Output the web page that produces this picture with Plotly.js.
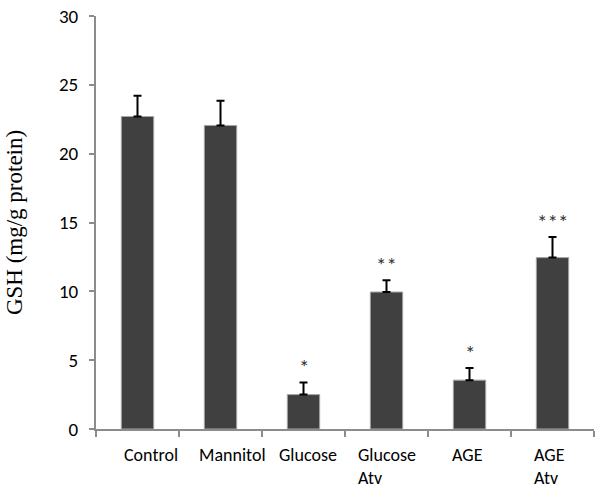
<!DOCTYPE html>
<html>
<head>
<meta charset="utf-8">
<script src="https://cdn.plot.ly/plotly-3.0.1.min.js"></script>
<style>html,body{margin:0;padding:0;background:#fff;}#chart{width:600px;height:491px;}</style>
</head>
<body>
<div id="chart"></div>
<script>
var categories = ["Control", "Mannitol", "Glucose", "Glucose Atv", "AGE", "AGE Atv"];
var labels = ["Control", "Mannitol", "Glucose", "Glucose<br>Atv", "AGE", "AGE<br>Atv"];
var gsh = [22.7, 22.05, 2.5, 9.95, 3.55, 12.45];
var sem = [1.5, 1.8, 0.88, 0.86, 0.88, 1.5];
var stars = ["", "", "*", "**", "*", "***"];
var yTicks = [0, 5, 10, 15, 20, 25, 30];

var labelShift = [13, 12, 4, 0, -2, -3];
var FONT = "Carlito, 'Liberation Sans Narrow', 'Open Sans', sans-serif";

var trace = {
  type: "bar",
  x: categories,
  y: gsh,
  marker: {color: "#404040", line: {color: "#a6a6a6", width: 1}},
  error_y: {type: "data", symmetric: false, array: sem, arrayminus: sem.map(function(){return 0;}),
            color: "#000", thickness: 2, width: 4},
  hoverinfo: "x+y"
};

var annotations = [];
categories.forEach(function(c, i) {
  annotations.push({
    x: c, xref: "x", y: 0, yref: "paper", yanchor: "top", xanchor: "center",
    yshift: -13, xshift: labelShift[i], text: labels[i], showarrow: false, align: "left",
    font: {family: FONT, size: 18, color: "#000"}
  });
  if (stars[i]) {
    annotations.push({
      x: c, xref: "x", y: gsh[i] + sem[i], yref: "y", yanchor: "bottom", xanchor: "center",
      yshift: 0, text: stars[i], showarrow: false,
      font: {family: FONT, size: 21, color: "#333333"}
    });
  }
});

var layout = {
  width: 600, height: 491,
  margin: {l: 96, r: 6, t: 16, b: 62},
  paper_bgcolor: "#fff", plot_bgcolor: "#fff",
  showlegend: false,
  bargap: 0.61,
  xaxis: {
    type: "category", range: [-0.5, 5.5], showticklabels: false,
    showline: true, linecolor: "#8c8c8c", linewidth: 2,
    ticks: "outside", tickson: "boundaries", ticklen: 6, tickcolor: "#8c8c8c", tickwidth: 2,
    showgrid: false, zeroline: false, fixedrange: true
  },
  yaxis: {
    range: [0, 30], tickvals: yTicks, ticktext: yTicks.map(String),
    showline: true, linecolor: "#8c8c8c", linewidth: 2,
    ticks: "outside", ticklen: 5, tickcolor: "#8c8c8c", tickwidth: 2,
    showgrid: false, zeroline: false, ticklabelstandoff: 7,
    tickfont: {family: FONT, size: 19, color: "#000"},
    title: {text: "GSH (mg/g protein)", standoff: 30,
            font: {family: "'Liberation Serif', 'Times New Roman', serif", size: 23, color: "#000"}},
    fixedrange: true
  },
  annotations: annotations
};

Plotly.newPlot("chart", [trace], layout, {displayModeBar: false, staticPlot: true});
</script>
</body>
</html>
